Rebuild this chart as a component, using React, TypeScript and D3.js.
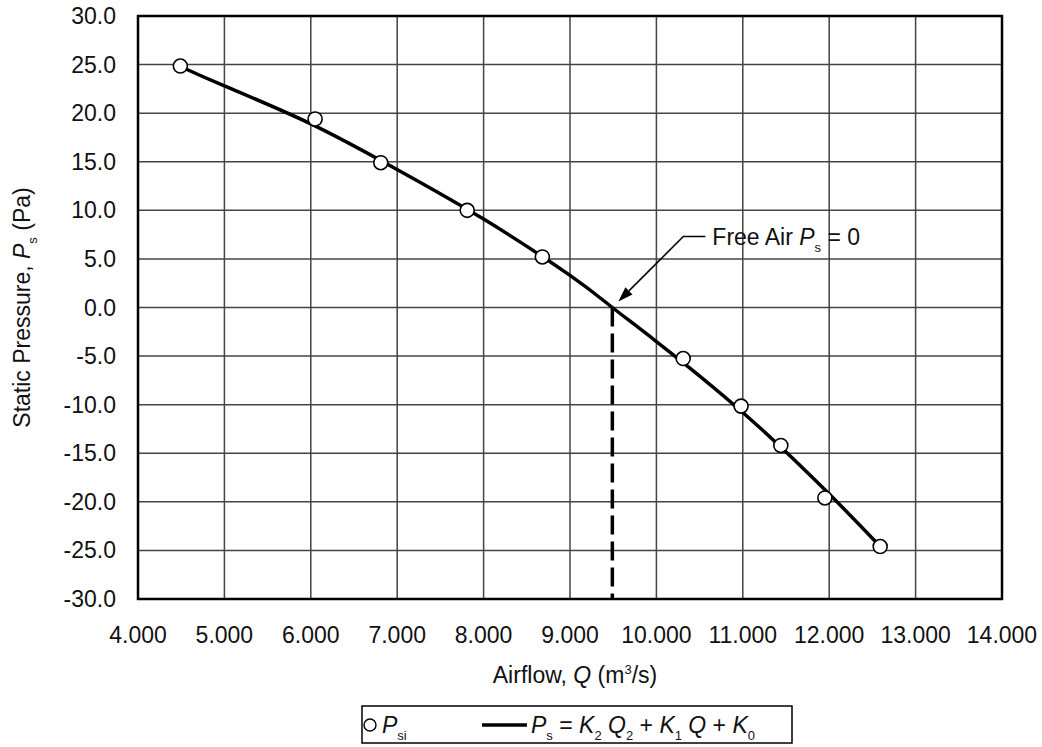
import React from "react";
import * as d3 from "d3";

const pointQ = [4.49, 6.05, 6.81, 7.81, 8.68, 10.31, 10.98, 11.44, 11.95, 12.59];
const pointP = [24.85, 19.4, 14.9, 10.0, 5.2, -5.25, -10.15, -14.2, -19.6, -24.6];

// fitted curve at grid lines
const curveQ = [4.49, 5, 6, 7, 8, 9, 9.49, 10, 11, 12, 12.59];
const curveP = [24.8, 22.8, 18.9, 14.2, 9.1, 3.3, 0, -3.5, -10.8, -19.2, -24.6];

const xTicks = [4, 5, 6, 7, 8, 9, 10, 11, 12, 13, 14];
const yTicks = [30, 25, 20, 15, 10, 5, 0, -5, -10, -15, -20, -25, -30];
const freeAirQ = 9.49;

const W = 1042;
const H = 747;
const margin = { top: 16, right: 40, bottom: 148, left: 138 };
const font = "'Liberation Sans', Arial, Helvetica, sans-serif";

export default function App() {
  const x = d3.scaleLinear().domain([4, 14]).range([margin.left, W - margin.right]);
  const y = d3.scaleLinear().domain([-30, 30]).range([H - margin.bottom, margin.top]);

  const curve = d3
    .line<number>()
    .x((_, i) => x(curveQ[i]))
    .y((d) => y(d))
    .curve(d3.curveNatural)(curveP) as string;

  const x0 = x.range()[0];
  const x1 = x.range()[1];
  const yTop = y.range()[1];
  const yBot = y.range()[0];

  // annotation geometry
  const tipX = x(freeAirQ) + 6;
  const tipY = y(0) - 6;
  const elbowX = x(freeAirQ) + 71;
  const elbowY = y(0) - 71;
  const ang = Math.atan2(tipY - elbowY, tipX - elbowX);
  const ah = 15;
  const aw = 5;
  const bx = tipX - ah * Math.cos(ang);
  const by = tipY - ah * Math.sin(ang);
  const arrowHead = [
    [tipX, tipY],
    [bx + aw * Math.sin(ang), by - aw * Math.cos(ang)],
    [bx - aw * Math.sin(ang), by + aw * Math.cos(ang)],
  ]
    .map((p) => p.join(","))
    .join(" ");

  const fs = 23;
  const sub = 13;

  return (
    <div style={{ position: "absolute", left: 0, top: 0 }}>
      <svg width={W} height={H} style={{ display: "block", background: "#fff" }} fontFamily={font}>
        {/* grid */}
        <g stroke="#444" strokeWidth={1.5}>
          {xTicks.map((t) => (
            <line key={"gx" + t} x1={x(t)} x2={x(t)} y1={yTop} y2={yBot} />
          ))}
          {yTicks.map((t) => (
            <line key={"gy" + t} x1={x0} x2={x1} y1={y(t)} y2={y(t)} />
          ))}
        </g>
        <rect x={x0} y={yTop} width={x1 - x0} height={yBot - yTop} fill="none" stroke="#000" strokeWidth={2.5} />

        {/* tick labels */}
        <g fontSize={fs} fill="#111">
          {yTicks.map((t) => (
            <text key={"ty" + t} x={x0 - 22} y={y(t)} textAnchor="end" dominantBaseline="central">
              {t.toFixed(1)}
            </text>
          ))}
          {xTicks.map((t) => (
            <text key={"tx" + t} x={x(t)} y={yBot + 44} textAnchor="middle">
              {t.toFixed(3)}
            </text>
          ))}
        </g>

        {/* free air dashed line */}
        <line
          x1={x(freeAirQ)}
          x2={x(freeAirQ)}
          y1={y(0)}
          y2={yBot}
          stroke="#000"
          strokeWidth={3.5}
          strokeDasharray="19 7"
        />

        {/* fitted curve */}
        <path d={curve} fill="none" stroke="#000" strokeWidth={3.5} />

        {/* data points */}
        {pointP.map((p, i) => (
          <circle key={"p" + i} cx={x(pointQ[i])} cy={y(p)} r={7} fill="#fff" stroke="#000" strokeWidth={1.6} />
        ))}

        {/* annotation */}
        <polyline
          points={`${elbowX + 22},${elbowY} ${elbowX},${elbowY} ${bx},${by}`}
          fill="none"
          stroke="#000"
          strokeWidth={1.6}
        />
        <polygon points={arrowHead} fill="#000" />
        <text x={elbowX + 29} y={elbowY + 8} fontSize={fs} fill="#111">
          Free Air <tspan fontStyle="italic">P</tspan>
          <tspan fontSize={sub} dy={7}>s</tspan>
          <tspan dy={-7}> = 0</tspan>
        </text>

        {/* axis titles */}
        <text x={(x0 + x1) / 2 + 5} y={683} textAnchor="middle" fontSize={fs} fill="#111">
          Airflow, <tspan fontStyle="italic">Q</tspan> (m<tspan fontSize={sub} dy={-9}>3</tspan>
          <tspan dy={9}>/s)</tspan>
        </text>
        <text
          transform={`translate(30,${(yTop + yBot) / 2}) rotate(-90)`}
          textAnchor="middle"
          fontSize={fs}
          fill="#111"
        >
          Static Pressure, <tspan fontStyle="italic">P</tspan>
          <tspan fontSize={sub} dy={7}>s</tspan>
          <tspan dy={-7}> (Pa)</tspan>
        </text>

        {/* legend */}
        <rect x={362} y={706} width={430} height={37} fill="#fff" stroke="#000" strokeWidth={1.5} />
        <circle cx={370} cy={725} r={6} fill="#fff" stroke="#000" strokeWidth={1.4} />
        <text x={382} y={733} fontSize={fs} fill="#111">
          <tspan fontStyle="italic">P</tspan>
          <tspan fontSize={sub} dy={7}>si</tspan>
        </text>
        <line x1={482} x2={527} y1={725} y2={725} stroke="#000" strokeWidth={3.5} />
        <text x={531} y={733} fontSize={fs} fill="#111">
          <tspan fontStyle="italic">P</tspan>
          <tspan fontSize={sub} dy={7}>s</tspan>
          <tspan dy={-7}> = </tspan>
          <tspan fontStyle="italic">K</tspan>
          <tspan fontSize={sub} dy={7}>2</tspan>
          <tspan dy={-7}> </tspan>
          <tspan fontStyle="italic">Q</tspan>
          <tspan fontSize={sub} dy={7}>2</tspan>
          <tspan dy={-7}> + </tspan>
          <tspan fontStyle="italic">K</tspan>
          <tspan fontSize={sub} dy={7}>1</tspan>
          <tspan dy={-7}> </tspan>
          <tspan fontStyle="italic">Q</tspan>
          <tspan> + </tspan>
          <tspan fontStyle="italic">K</tspan>
          <tspan fontSize={sub} dy={7}>0</tspan>
        </text>
      </svg>
    </div>
  );
}
